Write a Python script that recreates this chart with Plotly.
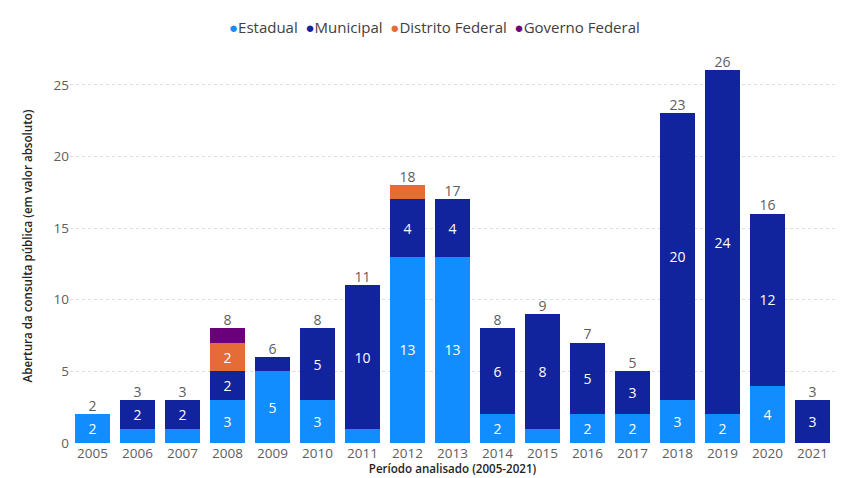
import plotly.graph_objects as go

anos = [str(a) for a in range(2005, 2022)]
estadual = [2, 1, 1, 3, 5, 3, 1, 13, 13, 2, 1, 2, 2, 3, 2, 4, 0]
municipal = [0, 2, 2, 2, 1, 5, 10, 4, 4, 6, 8, 5, 3, 20, 24, 12, 3]
distrito_federal = [0, 0, 0, 2, 0, 0, 0, 1, 0, 0, 0, 0, 0, 0, 0, 0, 0]
governo_federal = [0, 0, 0, 1, 0, 0, 0, 0, 0, 0, 0, 0, 0, 0, 0, 0, 0]

series = [
    ("Estadual", estadual, "#118DFF"),
    ("Municipal", municipal, "#12239E"),
    ("Distrito Federal", distrito_federal, "#E66C37"),
    ("Governo Federal", governo_federal, "#6B007B"),
]

FONT = "Open Sans"
GRAY = "#605E5C"

fig = go.Figure()
for nome, vals, cor in series:
    rotulos = [str(v) if v >= 2 else "" for v in vals]
    fig.add_trace(go.Bar(
        x=anos, y=vals, name=nome, marker_color=cor, marker_line_width=0,
        text=rotulos, textposition="inside", insidetextanchor="middle",
        textfont=dict(color="white", size=14, family=FONT),
        showlegend=False, hoverinfo="x+y+name",
    ))

totais = [sum(v) for v in zip(estadual, municipal, distrito_federal, governo_federal)]
fig.add_trace(go.Scatter(
    x=anos, y=totais, mode="text", text=[str(t) for t in totais],
    textposition="top center", textfont=dict(color=GRAY, size=14, family=FONT),
    showlegend=False, hoverinfo="skip", cliponaxis=False,
))

# compact legend with round markers
legenda = "  ".join(
    f"<span style='color:{cor}'>●</span>{nome}" for nome, _, cor in series
)
fig.add_annotation(
    text=legenda, xref="paper", yref="paper", x=0.476, y=1.056,
    xanchor="center", yanchor="middle", showarrow=False,
    font=dict(size=15, color="#404040", family=FONT),
)

fig.update_layout(
    barmode="stack", bargap=0.22,
    width=842, height=478,
    margin=dict(l=70, r=7, t=49, b=35, autoexpand=False),
    paper_bgcolor="white", plot_bgcolor="white",
    font=dict(family=FONT, color=GRAY, size=13),
    showlegend=False,
    uniformtext=dict(minsize=8, mode="show"),
)
fig.update_xaxes(
    type="category", range=[-0.5, len(anos) - 0.5],
    showgrid=False, showline=False, ticks="", automargin=False,
    tickfont=dict(size=13.5, color=GRAY),
    title=dict(text="Período analisado (2005-2021)", standoff=4,
               font=dict(size=11.6, color="#252423", weight=600)),
)
fig.update_yaxes(
    range=[0, 27.5], tickvals=[0, 5, 10, 15, 20, 25], automargin=False,
    showgrid=True, gridcolor="#DCDCDC", griddash="dot", gridwidth=1,
    zeroline=False, showline=False,
    tickfont=dict(size=13.5, color=GRAY),
    title=dict(text="Abertura da consulta pública (em valor absoluto)", standoff=18,
               font=dict(size=11.6, color="#252423", weight=600)),
)

fig.write_html("out.html")
